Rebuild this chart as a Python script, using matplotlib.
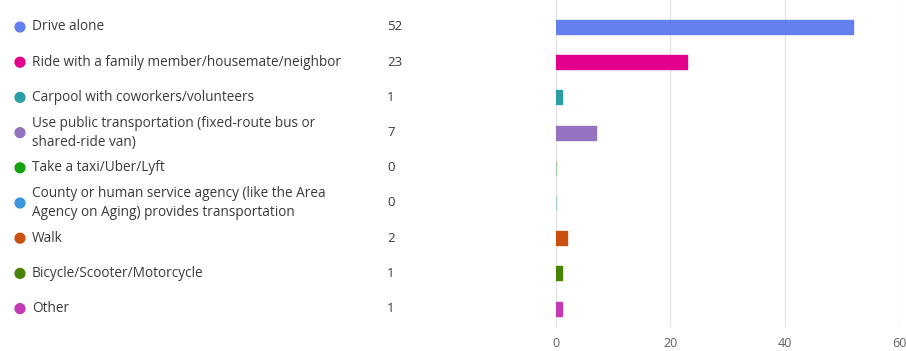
import matplotlib.pyplot as plt

categories = [
    "Drive alone",
    "Ride with a family member/housemate/neighbor",
    "Carpool with coworkers/volunteers",
    "Use public transportation (fixed-route bus or\nshared-ride van)",
    "Take a taxi/Uber/Lyft",
    "County or human service agency (like the Area\nAgency on Aging) provides transportation",
    "Walk",
    "Bicycle/Scooter/Motorcycle",
    "Other",
]
counts = [52, 23, 1, 7, 0, 0, 2, 1, 1]
colors = ["#6380EE", "#E3008C", "#2AA0A4", "#9373C0", "#13A10E",
          "#3A96DD", "#CA5010", "#498205", "#C239B3"]
x_ticks = [0, 20, 40, 60]

W, H = 906, 351
fig = plt.figure(figsize=(W / 100, H / 100), dpi=100)
plt.rcParams["font.family"] = ["Open Sans", "DejaVu Sans"]

ax_left_px, ax_right_px = 556, 899
ax_top_px, ax_bot_px = 0, 327
ax = fig.add_axes([ax_left_px / W, (H - ax_bot_px) / H,
                   (ax_right_px - ax_left_px) / W, (ax_bot_px - ax_top_px) / H])

row_px = 35.2
first_center = 27
y_top = -first_center / row_px
y_bot = (ax_bot_px - first_center) / row_px
ypos = list(range(len(categories)))

bars = ax.barh(ypos, counts, height=0.4, color=colors, edgecolor=colors,
               linewidth=1.0, joinstyle="round", zorder=3)
for b, v in zip(bars, counts):
    if v == 0:
        b.set_alpha(0.35)

ax.set_xlim(0, 60)
ax.set_ylim(y_bot, y_top)
ax.set_xticks(x_ticks)
ax.set_xticklabels([str(t) for t in x_ticks])
ax.set_yticks([])
ax.grid(axis="x", color="#e3e3e3", linewidth=1.0, zorder=0)
for s in ax.spines.values():
    s.set_visible(False)
ax.tick_params(axis="x", length=0, pad=7, labelsize=9, labelcolor="#605e5c")

# label column on the left, sharing the row positions
lax = fig.add_axes([0, (H - ax_bot_px) / H, ax_left_px / W, (ax_bot_px - ax_top_px) / H],
                   sharey=ax)
lax.set_xlim(0, ax_left_px)
lax.axis("off")
lax.scatter([20] * len(categories), ypos, s=50, c=colors, zorder=3)
for y, label, v in zip(ypos, categories, counts):
    lax.text(32, y, label, ha="left", va="center", fontsize=9.8,
             color="#3b3a39", linespacing=1.38)
    lax.text(387, y, str(v), ha="left", va="center", fontsize=9.5, color="#3b3a39")
ax.set_ylim(y_bot, y_top)

fig.savefig("out.png", dpi=100)
